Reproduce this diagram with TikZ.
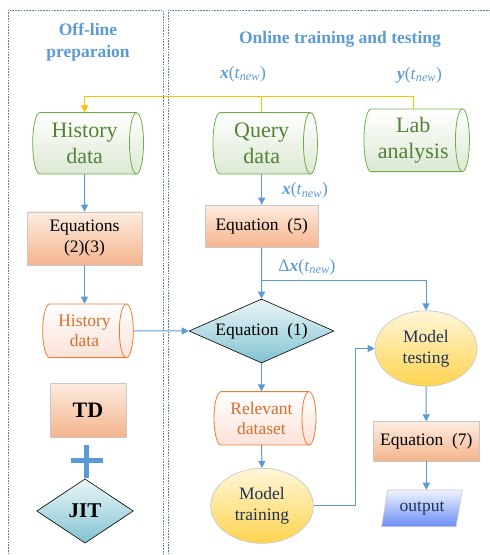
\documentclass[tikz,border=0pt]{standalone}
\usepackage{fontspec}
\setmainfont{Liberation Serif}
\usetikzlibrary{arrows.meta,shapes.geometric,calc}

\definecolor{frameblue}{RGB}{95,128,175}
\definecolor{flowblue}{RGB}{91,155,213}
\definecolor{gold}{RGB}{255,192,0}
\definecolor{grline}{RGB}{112,173,71}
\definecolor{grtext}{RGB}{84,130,53}
\definecolor{grfill}{RGB}{220,232,212}
\definecolor{orline}{RGB}{237,125,49}
\definecolor{ortext}{RGB}{214,110,45}
\definecolor{orfill}{RGB}{251,226,216}
\definecolor{peachtop}{RGB}{253,236,224}
\definecolor{peachbot}{RGB}{244,180,140}
\definecolor{tealtop}{RGB}{236,246,248}
\definecolor{tealbot}{RGB}{128,194,210}
\definecolor{goldtop}{RGB}{255,246,216}
\definecolor{goldbot}{RGB}{255,212,80}
\definecolor{bluetop}{RGB}{240,243,255}
\definecolor{bluebot}{RGB}{106,140,245}
\definecolor{navy}{RGB}{31,50,90}
\definecolor{softgray}{RGB}{200,200,200}

\newcommand\drumr{7}
% drum (horizontal cylinder): name, x, y, body width, height, look, text
\newcommand\drum[7]{%
  \shadedraw[#6] ({#2-#4/2+\drumr},{#3+#5/2}) -- ({#2+#4/2},{#3+#5/2})
     arc[start angle=90,end angle=-90,x radius=\drumr pt,y radius={0.5pt*#5}]
     -- ({#2-#4/2+\drumr},{#3-#5/2})
     arc[start angle=270,end angle=90,x radius=\drumr pt,y radius={0.5pt*#5}] -- cycle;
  \draw[#6 edge] ({#2+#4/2},{#3+#5/2})
     arc[start angle=90,end angle=270,x radius=\drumr pt,y radius={0.5pt*#5}];
  \node[#6 text, minimum width=#4, minimum height=#5] (#1) at (#2,#3) {#7};
}
\newcommand\xnew{{\bfseries\itshape x}(\textit{t}\textsubscript{\itshape new})}
\newcommand\ynew{{\bfseries\itshape y}(\textit{t}\textsubscript{\itshape new})}

\tikzset{
  txt/.style={font=\fontsize{17.5}{21}\selectfont},
  frame/.style={draw=frameblue, line width=0.8pt, dash pattern=on 1.6pt off 1.2pt},
  title/.style={txt, font=\fontsize{17.5}{21.6}\selectfont\bfseries, text=flowblue, align=center},
  sig/.style={txt, text=flowblue, inner sep=0pt},
  flow/.style={draw=flowblue, line width=1pt, -{Triangle[length=7pt,width=7pt]}},
  feed/.style={draw=gold, line width=1.1pt},
  drumG/.style={draw=grline, line width=0.8pt, top color=white, bottom color=grfill},
  drumG edge/.style={draw=grline, line width=0.8pt},
  drumG text/.style={text=grtext, font=\fontsize{22}{25.5}\selectfont, align=center, inner sep=0pt},
  drumO/.style={draw=orline, line width=0.8pt, top color=white, bottom color=orfill},
  drumO edge/.style={draw=orline, line width=0.8pt},
  drumO text/.style={text=ortext, font=\fontsize{17.5}{20.5}\selectfont, align=center, inner sep=0pt},
  eqbox/.style={rectangle, draw=softgray, line width=0.7pt, top color=peachtop, bottom color=peachbot,
    txt, align=center, inner sep=0pt},
  dia/.style={diamond, draw=black, line width=0.6pt, top color=tealtop, bottom color=tealbot, inner sep=0pt},
  oval/.style={ellipse, draw=softgray, line width=0.7pt, top color=goldtop, bottom color=goldbot,
    text=navy, txt, align=center, inner sep=0pt},
  slab/.style={draw=softgray, line width=0.7pt, top color=bluetop, bottom color=bluebot},
}

\begin{document}
\begin{tikzpicture}[x=1pt,y=1pt]
\useasboundingbox (0,0) rectangle (490,555);

% dashed frames of the two stages
\draw[frame] (8,-5) -- (8,545) -- (163,545) -- (163,-5);
\draw[frame] (168,-5) -- (168,545) -- (495,545);

\node[title] (offt) at (88,512.5) {Off-line\\preparaion};
\node[title] (ont) at (340,515.7) {Online training and testing};

% data sources
\drum{hist}{84.6}{411.7}{103.8}{61.3}{drumG}{History\\data}
\drum{query}{261.7}{411.7}{97.5}{61.3}{drumG}{Query\\data}
\drum{lab}{413.2}{414.7}{98.5}{62.7}{drumG}{Lab\\analysis}

\node[sig] (xtop) at (243,481) {\xnew};
\node[sig] (ytop) at (419.5,480) {\ynew};

% off-line column
\node[eqbox, minimum width=115, minimum height=53] (eq23) at (84.5,316.5) {Equations\\(2)(3)};
\drum{histo}{84.5}{224.2}{83.7}{53.7}{drumO}{History\\data}
\node[eqbox, minimum width=76, minimum height=54, font=\fontsize{22}{26}\selectfont\bfseries] (td) at (88,144.7) {TD};
\draw[flowblue, line width=5pt] (86.7,110) -- (86.7,76.7) (71,94) -- (103.3,94);
\node[dia, aspect=1.5, minimum width=96.6, minimum height=64.3, font=\fontsize{21}{25}\selectfont\bfseries] (jit) at (85,44) {JIT};

% online column
\node[eqbox, minimum width=113, minimum height=42.3] (eq5) at (261.7,328.8) {Equation\ \ (5)};
\node[dia, aspect=2.27, minimum width=145, minimum height=64, txt] (eq1) at (261.5,224) {Equation\ \ (1)};
\drum{rel}{261.5}{136.7}{95}{53.3}{drumO}{Relevant\\dataset}
\node[oval, minimum width=102.6, minimum height=75] (train) at (262,49.2) {Model\\training};
\node[oval, minimum width=102, minimum height=75.4] (test) at (426,206.5) {Model\\testing};
\node[eqbox, minimum width=106, minimum height=39.3] (eq7) at (426.3,113.7) {Equation\ \ (7)};
\shadedraw[slab] (387.7,65) -- (462.3,65) -- (456,28.3) -- (381.7,28.3) -- cycle;
\node[txt, text=navy, minimum width=75, minimum height=36.7, inner sep=0pt] (out) at (422,46.7) {output};

\node[sig] (xq) at (305,364.3) {\xnew};
\node[sig] (dxq) at (307,288) {Δ\xnew};

% connectors
\coordinate (ybar) at (0,458.3);
\draw[feed, -{Triangle[length=7pt,width=7pt]}] (lab.north) |- (hist.north |- ybar) -- (hist.north);
\draw[feed] (query.north) -- (query.north |- ybar);

\draw[flow] (hist.south) -- (eq23.north);
\draw[flow] (eq23.south) -- (histo.north);
\draw[flow] ([xshift=7pt]histo.east) -- (eq1.west);
\draw[flow] (query.south) -- (eq5.north);
\draw[flow] (eq5.south) -- (eq1.north);
\coordinate (split) at ([yshift=-32.6pt]eq5.south);
\draw[flow] (split) -| (test.north);
\draw[flow] (eq1.south) -- (rel.north);
\draw[flow] (rel.south) -- (train.north);
\draw[flow] (train.east) -- ++(42,0) |- (test.west);
\draw[flow] (test.south) -- (eq7.north);
\draw[flow] (eq7.south) -- (eq7.south |- out.north);
\end{tikzpicture}
\end{document}
